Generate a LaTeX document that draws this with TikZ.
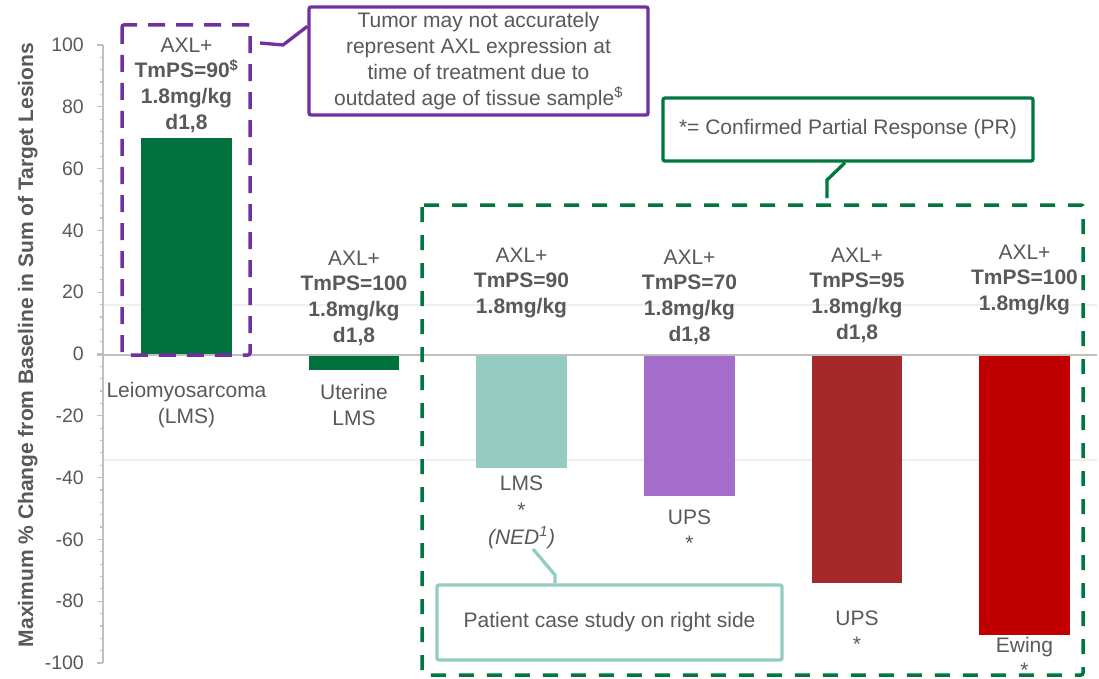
\documentclass[tikz,border=0pt]{standalone}
\usepackage{fontspec}
\setmainfont{Liberation Sans}
\definecolor{txtgray}{HTML}{595959}
\definecolor{axgray}{HTML}{BFBFBF}
\definecolor{faint}{HTML}{EFEFEF}
\definecolor{dkgreen}{HTML}{00703C}
\definecolor{boxgreen}{HTML}{00773D}
\definecolor{tealc}{HTML}{94CCC2}
\definecolor{lavc}{HTML}{A56DCB}
\definecolor{brickc}{HTML}{A5282B}
\definecolor{redc}{HTML}{C00000}
\definecolor{purpc}{HTML}{7030A0}
\tikzset{
  lbl/.style={font=\fontsize{21}{25.8}\selectfont, text=txtgray, align=center, inner sep=0pt, anchor=north},
  ticklbl/.style={font=\fontsize{19.5}{24}\selectfont, text=txtgray, inner sep=0pt, anchor=east},
  axislbl/.style={font=\fontsize{21}{25}\selectfont\bfseries, text=txtgray, inner sep=0pt, rotate=90, anchor=base},
  axisline/.style={draw=axgray, line width=1.5pt},
  gridfaint/.style={draw=faint, line width=1.2pt},
  callout/.style={draw, line width=3.3pt, rounded corners=2pt, fill=white, font=\fontsize{21}{26}\selectfont, text=txtgray, align=center, inner sep=0pt},
  purpledash/.style={draw=purpc, line width=3.5pt, dash pattern=on 17pt off 11pt, rounded corners=2pt},
  greendash/.style={draw=boxgreen, line width=3.5pt, dash pattern=on 15pt off 13pt, rounded corners=2pt},
}
\begin{document}
\begin{tikzpicture}[x=1pt,y=-1pt]
\useasboundingbox (0,0) rectangle (1099,679);
\fill[white] (0,0) rectangle (1099,679);
% faint lines
\draw[gridfaint] (103,305) -- (1097,305);
\draw[gridfaint] (103,460) -- (1097,460);
% bars
\fill[dkgreen] (141,355) rectangle (232,138);
\fill[dkgreen] (309,355) rectangle (399,370);
\fill[tealc] (476,355) rectangle (567,468);
\fill[lavc] (644,355) rectangle (735,496);
\fill[brickc] (812,355) rectangle (902,583);
\fill[redc] (979,355) rectangle (1070,635);
% axis
\draw[axisline] (103,45) -- (103,663);
\foreach \v in {-100,-96,...,100} {
  \draw[axgray, line width=1.2pt] (99.5,{354-3.09*\v}) -- (103,{354-3.09*\v});
}
\foreach \v in {-100,-80,...,100} {
  \draw[axgray, line width=1.2pt] (97,{354-3.09*\v}) -- (103,{354-3.09*\v});
  \node[ticklbl] (tk\v) at (84,{354-3.09*\v}) {\v};
}
\draw[axisline] (97,355) -- (1097,355);
\node[axislbl] (ylab) at (33,345) {Maximum \% Change from Baseline in Sum of Target Lesions};
% dashed group boxes
\draw[purpledash] (122,25) rectangle (250,355);
\draw[greendash] (422,205) rectangle (1083,675);
% top labels
\node[lbl] (t1) at (186.5,37.5) {AXL+\\\textbf{TmPS=90\textsuperscript{\$}}\\\textbf{1.8mg/kg}\\\textbf{d1,8}};
\node[lbl] (t2) at (354,250.5) {AXL+\\\textbf{TmPS=100}\\\textbf{1.8mg/kg}\\\textbf{d1,8}};
\node[lbl] (t3) at (521.5,247.5) {AXL+\\\textbf{TmPS=90}\\\textbf{1.8mg/kg}};
\node[lbl] (t4) at (689.5,249.5) {AXL+\\\textbf{TmPS=70}\\\textbf{1.8mg/kg}\\\textbf{d1,8}};
\node[lbl] (t5) at (857,247.5) {AXL+\\\textbf{TmPS=95}\\\textbf{1.8mg/kg}\\\textbf{d1,8}};
\node[lbl] (t6) at (1024.5,244.5) {AXL+\\\textbf{TmPS=100}\\\textbf{1.8mg/kg}};
% bottom labels
\node[lbl] (b1) at (186.5,382.5) {Leiomyosarcoma\\(LMS)};
\node[lbl] (b2) at (354,384.5) {Uterine\\LMS};
\node[lbl, font=\fontsize{21}{27}\selectfont] (b3) at (521.5,475.5) {LMS\\*\\\textit{(NED\textsuperscript{1})}};
\node[lbl] (b4) at (689.5,509.5) {UPS\\*};
\node[lbl] (b5) at (857,610.5) {UPS\\*};
\node[lbl, font=\fontsize{21}{24.5}\selectfont] (b6) at (1024.5,637.5) {Ewing\\*};
% callouts
\node[callout, draw=purpc, minimum width=339pt, minimum height=108pt] (call1) at (478.5,61) {Tumor may not accurately\\represent AXL expression at\\time of treatment due to\\outdated age of tissue sample\textsuperscript{\$}};
\node[callout, draw=boxgreen, minimum width=370pt, minimum height=63pt] (call2) at (848,129.5) {*= Confirmed Partial Response (PR)};
\node[callout, draw=tealc, minimum width=345pt, minimum height=75pt] (call3) at (609.5,622.5) {Patient case study on right side};
% connectors
\coordinate (p1) at (260,43);
\coordinate (p2) at (283,45);
\draw[purpc, line width=3.3pt] (p1) -- (p2) -- ([yshift=-21pt]call1.north west);
\coordinate (g2) at (827,180);
\coordinate (g3) at (827,198);
\draw[boxgreen, line width=3.3pt] ([xshift=-3pt]call2.south) -- (g2) -- (g3);
\coordinate (q2) at (555,575);
\coordinate (q3) at (533,549);
\draw[tealc, line width=3.3pt] ([xshift=-54.5pt]call3.north) -- (q2) -- (q3);
\end{tikzpicture}
\end{document}
